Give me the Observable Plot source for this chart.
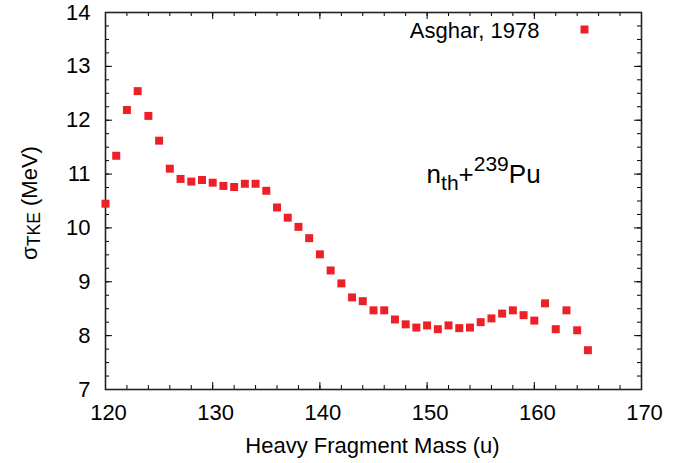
<!DOCTYPE html>
<html>
<head>
<meta charset="utf-8">
<script src="https://cdn.jsdelivr.net/npm/d3@7"></script>
<script src="https://cdn.jsdelivr.net/npm/@observablehq/plot@0.6"></script>
<style>
  html, body { margin: 0; padding: 0; background: #fff; }
  #chart svg { font-family: "Liberation Sans", Arial, Helvetica, sans-serif; }
</style>
</head>
<body>
<div id="chart"></div>
<script>
// ---- data ----
const mass = [120,121,122,123,124,125,126,127,128,129,130,131,132,133,134,135,136,137,138,139,140,141,142,143,144,145,146,147,148,149,150,151,152,153,154,155,156,157,158,159,160,161,162,163,164,165];
const sigmaTKE = [10.45,11.34,12.19,12.54,12.08,11.62,11.10,10.91,10.86,10.89,10.84,10.78,10.76,10.82,10.82,10.69,10.38,10.19,10.02,9.81,9.51,9.21,8.97,8.71,8.64,8.47,8.47,8.30,8.21,8.15,8.19,8.12,8.19,8.14,8.15,8.25,8.32,8.41,8.47,8.38,8.28,8.60,8.12,8.47,8.10,7.73];
const xMajorTicks = [120,130,140,150,160,170];
const yMajorTicks = [7,8,9,10,11,12,13,14];
const xMinorTicks = d3.range(120, 170.001, 2);
const yMinorTicks = d3.range(7, 14.001, 0.25);
const seriesLabel = "Asghar, 1978";
const xTitle = "Heavy Fragment Mass (u)";

const data = mass.map((m, i) => ({mass: m, sigma: sigmaTKE[i]}));

const W = 689, H = 463;
const mL = 105, mR = 48, mT = 12, mB = 74;
const fW = W - mL - mR, fH = H - mT - mB;
const red = "#ed1f27";
const tk = {stroke: "#000", strokeWidth: 1};
const minorLen = 4, majorLen = 7;

const plot = Plot.plot({
  width: W, height: H,
  marginLeft: mL, marginRight: mR, marginTop: mT, marginBottom: mB,
  style: {fontFamily: "Liberation Sans, Arial, Helvetica, sans-serif", fontSize: "22px", background: "#fff", color: "#000"},
  x: {domain: [120, 170], axis: null},
  y: {domain: [7, 14], axis: null},
  marks: [
    // inward minor ticks on all four sides
    Plot.tickX(xMinorTicks, {...tk, x: d => d, insetTop: fH - minorLen}),
    Plot.tickX(xMinorTicks, {...tk, x: d => d, insetBottom: fH - minorLen}),
    Plot.tickY(yMinorTicks, {...tk, y: d => d, insetRight: fW - minorLen}),
    Plot.tickY(yMinorTicks, {...tk, y: d => d, insetLeft: fW - minorLen}),
    // inward major ticks
    Plot.tickX(xMajorTicks, {...tk, x: d => d, insetTop: fH - majorLen}),
    Plot.tickX(xMajorTicks, {...tk, x: d => d, insetBottom: fH - majorLen}),
    Plot.tickY(yMajorTicks, {...tk, y: d => d, insetRight: fW - majorLen}),
    Plot.tickY(yMajorTicks, {...tk, y: d => d, insetLeft: fW - majorLen}),
    // tick labels
    Plot.axisX(xMajorTicks, {anchor: "bottom", tickSize: 0, tickPadding: 15, dx: 3, label: null, fontSize: 22, fill: "#000", tickFormat: d => String(d)}),
    Plot.axisY(yMajorTicks, {anchor: "left", tickSize: 0, tickPadding: 15, label: null, fontSize: 22, fill: "#000", tickFormat: d => String(d)}),
    Plot.frame({stroke: "#222", strokeWidth: 1.6}),
    // data
    Plot.dot(data, {x: "mass", y: "sigma", symbol: "square", r: 4.5, fill: red, stroke: "none"}),
    // legend
    Plot.dot([seriesLabel], {frameAnchor: "top-right", dx: -57, dy: 17, symbol: "square", r: 4.5, fill: red, stroke: "none"}),
    Plot.text([seriesLabel], {text: d => d, frameAnchor: "top-right", dx: -102, dy: 18, textAnchor: "end", lineAnchor: "middle", fontSize: 22, fill: "#000"}),
    // x title
    Plot.text([xTitle], {text: d => d, frameAnchor: "bottom", dx: -1, dy: 56, lineAnchor: "middle", fontSize: 22, fill: "#000"})
  ]
});

document.getElementById("chart").appendChild(plot);

// ---- rich text labels (sub/superscripts) ----
const svg = d3.select(plot);
const xs = plot.scale("x"), ys = plot.scale("y");

// y-axis title: σ_TKE (MeV)
const yt = svg.append("text")
  .attr("transform", `translate(37,203) rotate(-90)`)
  .attr("text-anchor", "middle")
  .attr("font-size", 22)
  .attr("fill", "#000");
yt.append("tspan").text("σ");
yt.append("tspan").attr("font-size", 17.6).attr("dy", 3).text("TKE");
yt.append("tspan").attr("dy", -3).text(" (MeV)");

// reaction annotation: n_th + 239Pu
const ax = xs.apply(150), ay = ys.apply(10.83);
const an = svg.append("text")
  .attr("x", ax).attr("y", ay)
  .attr("text-anchor", "start")
  .attr("font-size", 26)
  .attr("fill", "#000");
an.append("tspan").text("n");
an.append("tspan").attr("font-size", 21).attr("dy", 7).text("th");
an.append("tspan").attr("dy", -7).text("+");
an.append("tspan").attr("font-size", 21).attr("dy", -11.5).text("239");
an.append("tspan").attr("dy", 11.5).text("Pu");
</script>
</body>
</html>
